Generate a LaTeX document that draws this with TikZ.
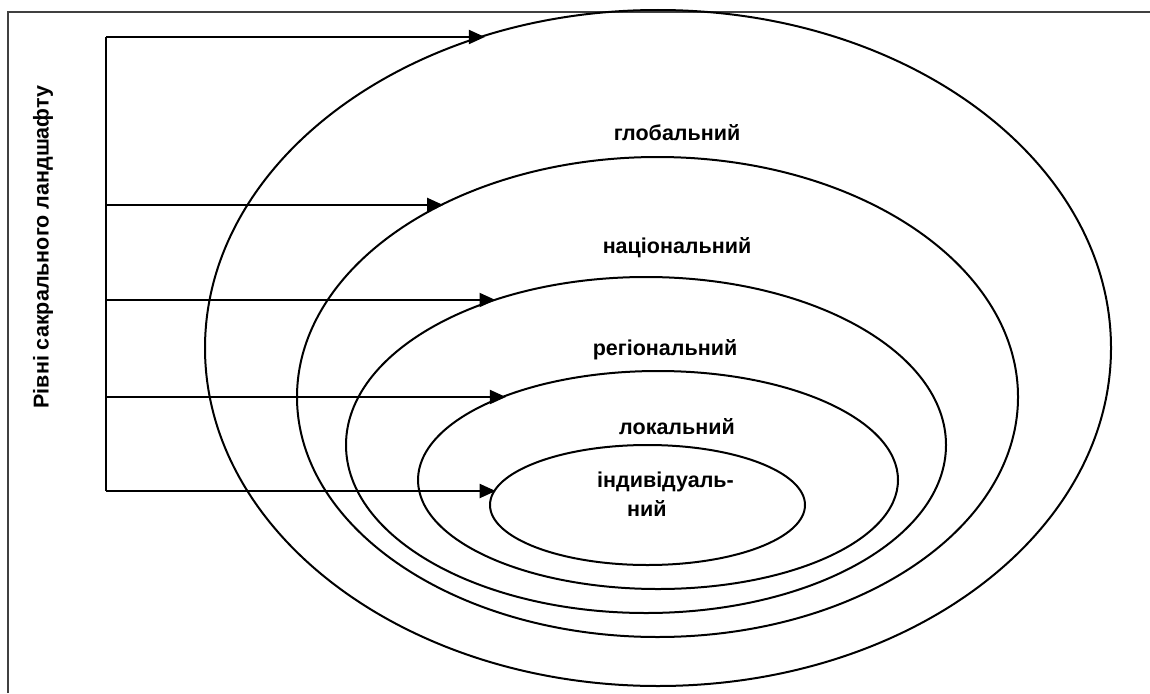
\documentclass[tikz,border=0pt]{standalone}
\usepackage{fontspec}
\setmainfont{Liberation Sans}
\usetikzlibrary{arrows.meta,shapes.geometric}
\begin{document}
\begin{tikzpicture}[x=1pt,y=-1pt,
  ring/.style={draw,ellipse,line width=2pt,inner sep=0pt,outer sep=0pt},
  arr/.style={line width=2pt,-{Triangle[length=16pt,width=14pt]}},
  stemline/.style={line width=2pt},
  lbl/.style={font=\bfseries\fontsize{21.5}{25}\selectfont,inner sep=0pt},
  frameline/.style={line width=1.2pt,black!75}]
\useasboundingbox (0,0) rectangle (1150,693);
% frame
\draw[frameline] (8,693) -- (8,12) -- (1150,12);
% ellipses
\node[ring,minimum width=906pt,minimum height=676pt] (e1) at (658,348) {};
\node[ring,minimum width=721pt,minimum height=480pt] (e2) at (657.5,397) {};
\node[ring,minimum width=600pt,minimum height=336pt] (e3) at (646,445) {};
\node[ring,minimum width=480pt,minimum height=218pt] (e4) at (658,480) {};
\node[ring,minimum width=315pt,minimum height=120pt] (e5) at (647.5,505) {};
% stem coordinates
\coordinate (s1) at (106,37);
\coordinate (s2) at (106,205);
\coordinate (s3) at (106,300);
\coordinate (s4) at (106,397);
\coordinate (s5) at (106,491);
\draw[stemline] (s1) -- (s5);
\draw[arr] (s1) -- (s1 -| e1.119.6);
\draw[arr] (s2) -- (s2 -| e2.138.4);
\draw[arr] (s3) -- (s3 -| e3.136.3);
\draw[arr] (s4) -- (s4 -| e4.151.9);
\draw[arr] (s5) -- (s5 -| e5.174.8);
% labels
\node[lbl] (t1) at (677,133) {глобальний};
\node[lbl] (t2) at (677,248) {національний};
\node[lbl] (t3) at (665,350) {регіональний};
\node[lbl] (t4) at (677,427) {локальний};
\node[lbl,anchor=west] (t5) at (597,482) {індивідуаль-};
\node[lbl,anchor=west] (t6) at (627,508) {ний};
\node[lbl,rotate=90] (title) at (43,247) {Рівні сакрального ландшафту};
\end{tikzpicture}
\end{document}
